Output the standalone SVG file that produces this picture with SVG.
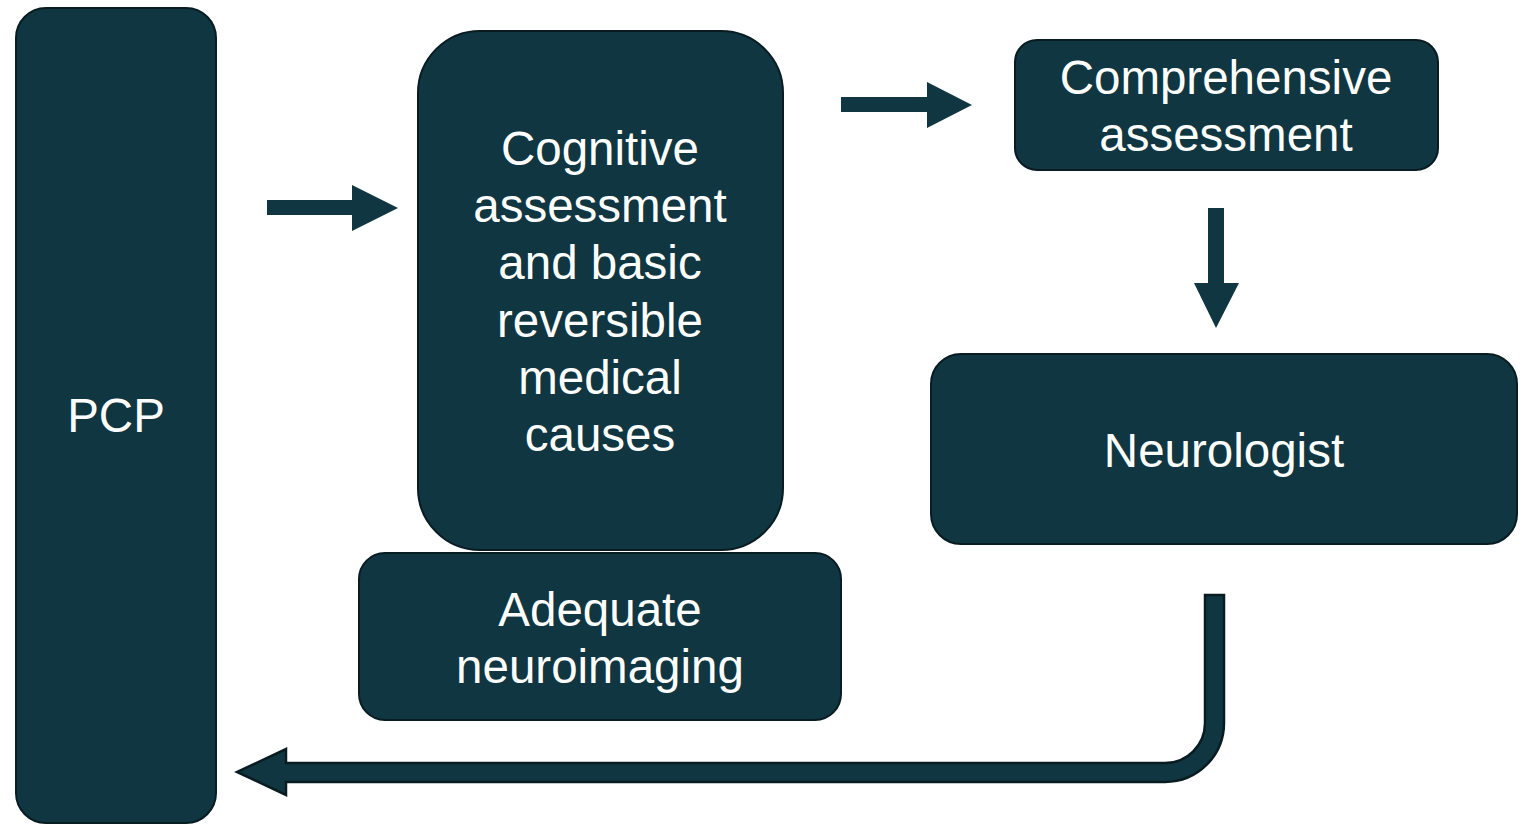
<svg xmlns="http://www.w3.org/2000/svg" width="1524" height="825" viewBox="0 0 1524 825">
<style>
.box{fill:#0f3641;stroke:#081c21;stroke-width:2}
.arr{fill:#0f3641}
.arr2{fill:#0f3641;stroke:#081c21;stroke-width:2.5;stroke-linejoin:miter}
.t{font-family:"Liberation Sans",Arial,sans-serif;font-size:47.5px;fill:#ffffff;text-anchor:middle}
</style>
<rect width="1524" height="825" fill="#ffffff"/>
<g id="connectors">
<polygon class="arr" points="267,200 352,200 352,185 398,208 352,231 352,215 267,215"/>
<polygon class="arr" points="841,97 927,97 927,82 972,105 927,128 927,112 841,112"/>
<polygon class="arr" points="1208,208 1224,208 1224,283 1239,283 1216,328 1194,283 1208,283"/>
<path class="arr2" d="M1205,595 L1224,595 L1224,723 A59,59 0 0 1 1165,782 L286,782 L286,795 L237,772 L286,749 L286,763 L1165,763 A40,40 0 0 0 1205,723 Z"/>
</g>
<g id="pcp">
<rect class="box" x="16" y="8" width="200" height="815" rx="30"/>
<text class="t" x="116" y="432">PCP</text>
</g>
<g id="cognitive">
<rect class="box" x="418" y="31" width="365" height="519" rx="62"/>
<text class="t" x="600" y="165">Cognitive</text>
<text class="t" x="600" y="222">assessment</text>
<text class="t" x="600" y="279">and basic</text>
<text class="t" x="600" y="337">reversible</text>
<text class="t" x="600" y="394">medical</text>
<text class="t" x="600" y="451">causes</text>
</g>
<g id="neuroimaging">
<rect class="box" x="359" y="553" width="482" height="167" rx="26"/>
<text class="t" x="600" y="626">Adequate</text>
<text class="t" x="600" y="683">neuroimaging</text>
</g>
<g id="comprehensive">
<rect class="box" x="1015" y="40" width="423" height="130" rx="22"/>
<text class="t" x="1226" y="94">Comprehensive</text>
<text class="t" x="1226" y="151">assessment</text>
</g>
<g id="neurologist">
<rect class="box" x="931" y="354" width="586" height="190" rx="30"/>
<text class="t" x="1224" y="467">Neurologist</text>
</g>
</svg>
